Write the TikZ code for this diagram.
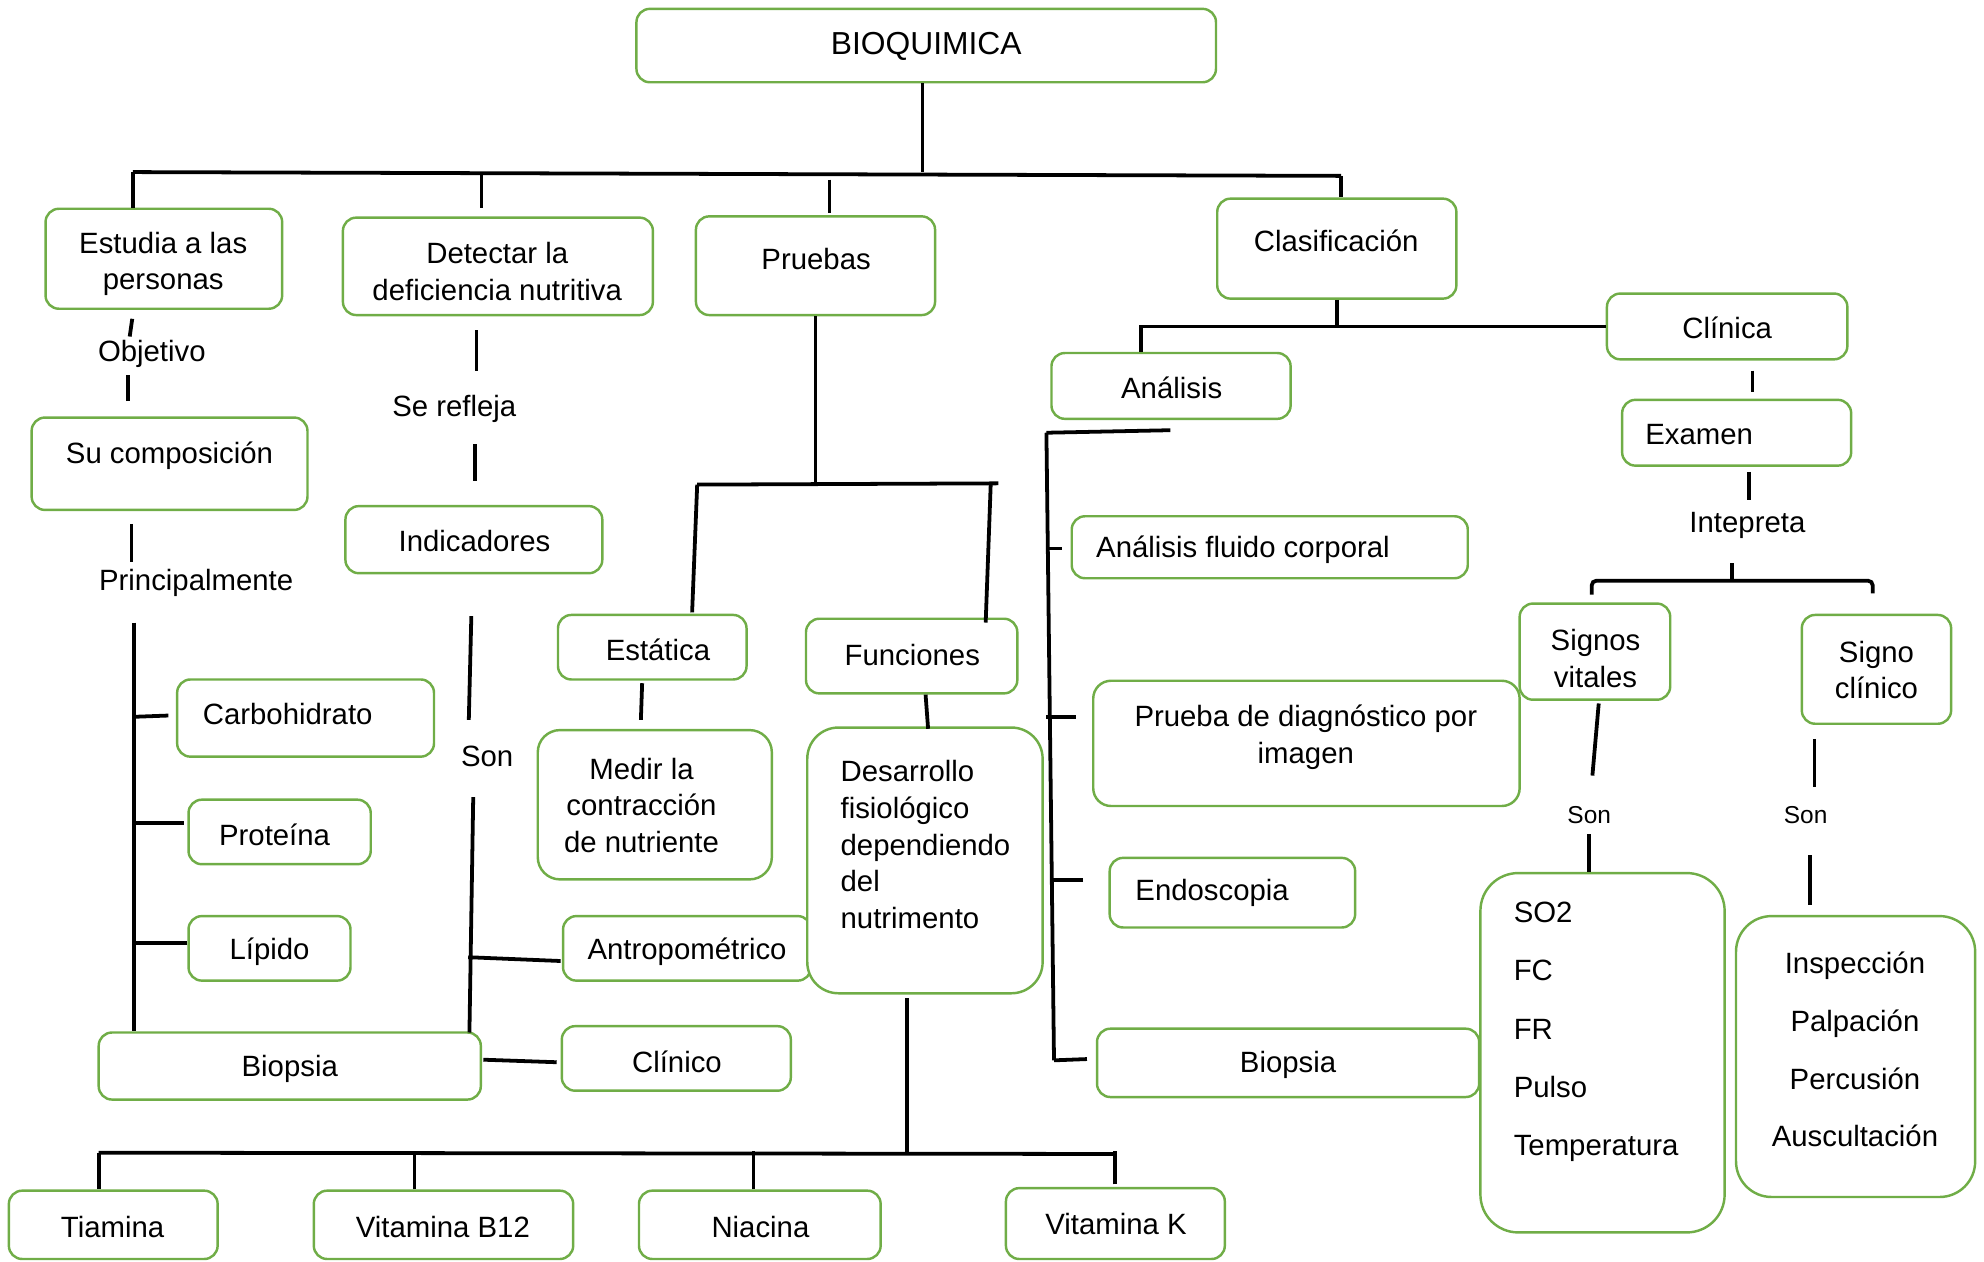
\documentclass[tikz,border=0pt]{standalone}
\usepackage{fontspec}
\setmainfont{Liberation Sans}
\usetikzlibrary{fit}
\definecolor{boxgreen}{HTML}{70AD47}

\begin{document}
\begin{tikzpicture}[x=0.02cm, y=-0.02cm,
        box/.style={draw=boxgreen, line width=1.1pt, rounded corners=6pt, inner sep=0pt},
        txt/.style={inner sep=0pt, yshift=-1.4pt, font=\fontsize{13.2}{16.5}\selectfont, align=center},
        small/.style={txt, font=\fontsize{11}{13}\selectfont},
        link/.style={line width=1.7pt}]
        \useasboundingbox (0,0) rectangle (1568,997);

        % boxes
        \node[box, fit={(503,7) (961,65)}] (bio) {};
        \node[box, fit={(36,165) (223,244)}] (est) {};
        \node[box, fit={(271,172) (516,249)}] (det) {};
        \node[box, fit={(550,171) (739,249)}] (pru) {};
        \node[box, fit={(962,157) (1151,236)}] (cla) {};
        \node[box, fit={(1270,232) (1460,284)}] (cli) {};
        \node[box, fit={(831,279) (1020,331)}] (ana) {};
        \node[box, fit={(1282,316) (1463,368)}] (exa) {};
        \node[box, fit={(25,330) (243,403)}] (comp) {};
        \node[box, fit={(273,400) (476,453)}] (ind) {};
        \node[box, fit={(847,408) (1160,457)}] (afc) {};
        \node[box, fit={(441,486) (590,537)}] (sta) {};
        \node[box, fit={(637,489) (804,548)}] (fun) {};
        \node[box, fit={(1201,477) (1320,553)}] (sv) {};
        \node[box, fit={(1424,486) (1542,572)}] (sc) {};
        \node[box, fit={(140,537) (343,598)}] (carb) {};
        \node[box, rounded corners=10pt, fit={(425,577) (610,695)}] (med) {};
        \node[box, fit={(445,724) (641,775)}] (antr) {};
        \node[box, rounded corners=14pt, fill=white, fit={(638,575) (824,785)}] (des) {};
        \node[box, rounded corners=8pt, fit={(864,538) (1201,637)}] (pdi) {};
        \node[box, fit={(149,632) (293,683)}] (prot) {};
        \node[box, fit={(877,678) (1071,733)}] (endo) {};
        \node[box, rounded corners=17pt, fit={(1170,690) (1363,974)}] (vit) {};
        \node[box, rounded corners=16pt, fit={(1372,724) (1561,946)}] (insp) {};
        \node[box, fit={(149,724) (277,775)}] (lip) {};
        \node[box, fit={(78,816) (380,869)}] (biol) {};
        \node[box, fit={(444,811) (625,862)}] (clin) {};
        \node[box, fit={(867,813) (1169,867)}] (bior) {};
        \node[box, fit={(7,941) (172,995)}] (tia) {};
        \node[box, fit={(248,941) (453,995)}] (b12) {};
        \node[box, fit={(505,941) (696,995)}] (nia) {};
        \node[box, fit={(795,939) (968,995)}] (vk) {};

        % texts
        \node[txt, font=\fontsize{14.3}{17}\selectfont] (bio-t) at (732,34) {BIOQUIMICA};
        \node[txt] (est-t) at (129,206) {Estudia a las\\personas};
        \node[txt] (det-t) at (393,212) {Detectar la\\deficiencia nutritiva};
        \node[txt] (pru-t) at (645,202) {Pruebas};
        \node[txt] (cla-t) at (1056,188) {Clasificación};
        \node[txt] (cli-t) at (1365,257) {Clínica};
        \node[txt] (ana-t) at (926,304) {Análisis};
        \node[txt, anchor=west] (exa-t) at (1300,341) {Examen};
        \node[txt] (comp-t) at (134,358) {Su composición};
        \node[txt] (ind-t) at (375,425) {Indicadores};
        \node[txt, anchor=west] (afc-t) at (866,432) {Análisis fluido corporal};
        \node[txt] (sta-t) at (520,511) {Estática};
        \node[txt] (fun-t) at (721,515) {Funciones};
        \node[txt] (sv-t) at (1261,518) {Signos\\vitales};
        \node[txt] (sc-t) at (1483,527) {Signo\\clínico};
        \node[txt, anchor=west] (carb-t) at (160,562) {Carbohidrato};
        \node[txt] (med-t) at (507,634) {Medir la\\contracción\\de nutriente};
        \node[txt, anchor=west, align=left] (des-t) at (664,665) {Desarrollo\\fisiológico\\dependiendo\\del\\nutrimento};
        \node[txt] (pdi-t) at (1032,580) {Prueba de diagnóstico por\\imagen};
        \node[txt] (prot-t) at (217,657) {Proteína};
        \node[txt, anchor=west] (endo-t) at (897,703) {Endoscopia};
        \node[txt, anchor=west, align=left, font=\fontsize{13.2}{26.2}\selectfont] (vit-t) at (1196,813) {SO2\\FC\\FR\\Pulso\\Temperatura};
        \node[txt, font=\fontsize{13.2}{26}\selectfont] (insp-t) at (1466,827) {Inspección\\Palpación\\Percusión\\Auscultación};
        \node[txt] (lip-t) at (213,750) {Lípido};
        \node[txt] (antr-t) at (543,750) {Antropométrico};
        \node[txt] (biol-t) at (229,842) {Biopsia};
        \node[txt] (clin-t) at (535,837) {Clínico};
        \node[txt] (bior-t) at (1018,839) {Biopsia};
        \node[txt] (tia-t) at (89,967) {Tiamina};
        \node[txt] (b12-t) at (350,967) {Vitamina B12};
        \node[txt] (nia-t) at (601,967) {Niacina};
        \node[txt] (vk-t) at (882,965) {Vitamina K};

        % linking words
        \node[txt] (obj) at (120,277) {Objetivo};
        \node[txt] (ref) at (359,321) {Se refleja};
        \node[txt] (prin) at (155,458) {Principalmente};
        \node[txt] (son1) at (385,595) {Son};
        \node[txt] (intp) at (1381,413) {Intepreta};
        \node[small] (son2) at (1256,642) {Son};
        \node[small] (son3) at (1427,642) {Son};

        % junctions
        \coordinate (topL) at (105,136);
        \coordinate (topR) at (1060,139);
        \coordinate (anaJ) at (902,258);
        \coordinate (svJ) at (1258,459);
        \coordinate (scJ) at (1480,459);
        \coordinate (intJ) at (1369,459);
        \coordinate (prinT) at (106,492);
        \coordinate (indB) at (371,816);
        \coordinate (staJ) at (551,383);
        \coordinate (funJ) at (783,382);
        \coordinate (botL) at (78,911);
        \coordinate (botR) at (880,912);
        \coordinate (anaL) at (827,342);

        % top level
        \draw[link] (bio.south) ++(-3,0) -- ++(0,70);
        \draw[link] (topL) -- (topR);
        \draw[link] (topL) -- (topL |- est.north);
        \draw[link] (det.north) ++(-13,-33) -- ++(0,26);
        \draw[link] (pru.north) ++(11,-28) -- ++(0,26);
        \draw[link] (topR) -- (topR |- cla.north);

        % Estudia / Detectar branch
        \draw[link] (est.south) ++(-25,7) -- ++(-2,14);
        \draw[link] (comp.north) ++(-33,-12) -- ++(0,-21);
        \draw[link] (comp.south) ++(-30,10) -- ++(0,30);
        \draw[link] (prinT) -- (prinT |- biol.north);
        \draw[link] (carb.west) ++(-6,-2) -- ++(-27,1);
        \draw[link] (prot.west) ++(-3,-7) -- ++(-40,0);
        \draw[link] (lip.west) ++(0,-4) -- ++(-43,0);
        \draw[link] (det.south) ++(-17,11) -- ++(0,32);
        \draw[link] (ind.north) ++(1,-19) -- ++(0,-29);
        \draw[link] (ind.south) ++(-2,33) -- ++(-2,82);
        \draw[link] (indB) -- ++(3,-186);
        \draw[link] (antr.west) ++(-1,10) -- ++(-73,-3);
        \draw[link] (biol.east) ++(1,-5) -- ++(58,2);

        % Pruebas branch
        \draw[link] (pru.south) -- (pru.south |- staJ);
        \draw[link] (staJ) -- ++(238,-1);
        \draw[link] (staJ) -- ++(-4,101);
        \draw[link] (funJ) -- ++(-4,110);
        \draw[link] (sta.south) ++(-8,2) -- ++(-1,29);
        \draw[link] (fun.south) ++(11,0) -- ++(2,27);
        \draw[link] (des.south) ++(-14,3) -- ++(0,123);
        \draw[link] (botL) -- (botR);
        \draw[link] (botL) -- (botL |- tia.north);
        \draw[link] (b12.north) ++(-23,0) -- ++(0,-30);
        \draw[link] (nia.north) ++(-5,0) -- ++(0,-30);
        \draw[link] (vk.north) ++(0,-2) -- ++(0,-26);

        % Clasificacion branch
        \draw[link] (cla.south) -- (cla.south |- anaJ);
        \draw[link] (cli.west) -- (anaJ) -- (anaJ |- ana.north);
        \draw[link] (anaL) -- ++(98,-2);
        \draw[link] (anaL) -- ++(6,496);
        \draw[link] (afc.west) ++(-7,1) -- ++(-11,0);
        \draw[link] (pdi.west) ++(-13,-21) -- ++(-23,0);
        \draw[link] (endo.west) ++(-20,-10) -- ++(-25,0);
        \draw[link] (bior.west) ++(-7,-3) -- ++(-26,1);

        % Clinica branch
        \draw[link] (cli.south) ++(20,8) -- ++(0,17);
        \draw[link] (exa.south) ++(10,4) -- ++(0,22);
        \draw[link] (intJ) -- ++(0,-14);
        \draw[link, rounded corners=2pt] (svJ) ++(0,11) -- (svJ) -- (scJ) -- ++(0,10);
        \draw[link] (sv.south) ++(3,2) -- ++(-5,57);
        \draw[link] (vit.north) ++(-11,0) -- ++(0,-30);
        \draw[link] (sc.south) ++(-49,11) -- ++(0,38);
        \draw[link] (insp.north) ++(-36,-8) -- ++(0,-39);
\end{tikzpicture}
\end{document}
